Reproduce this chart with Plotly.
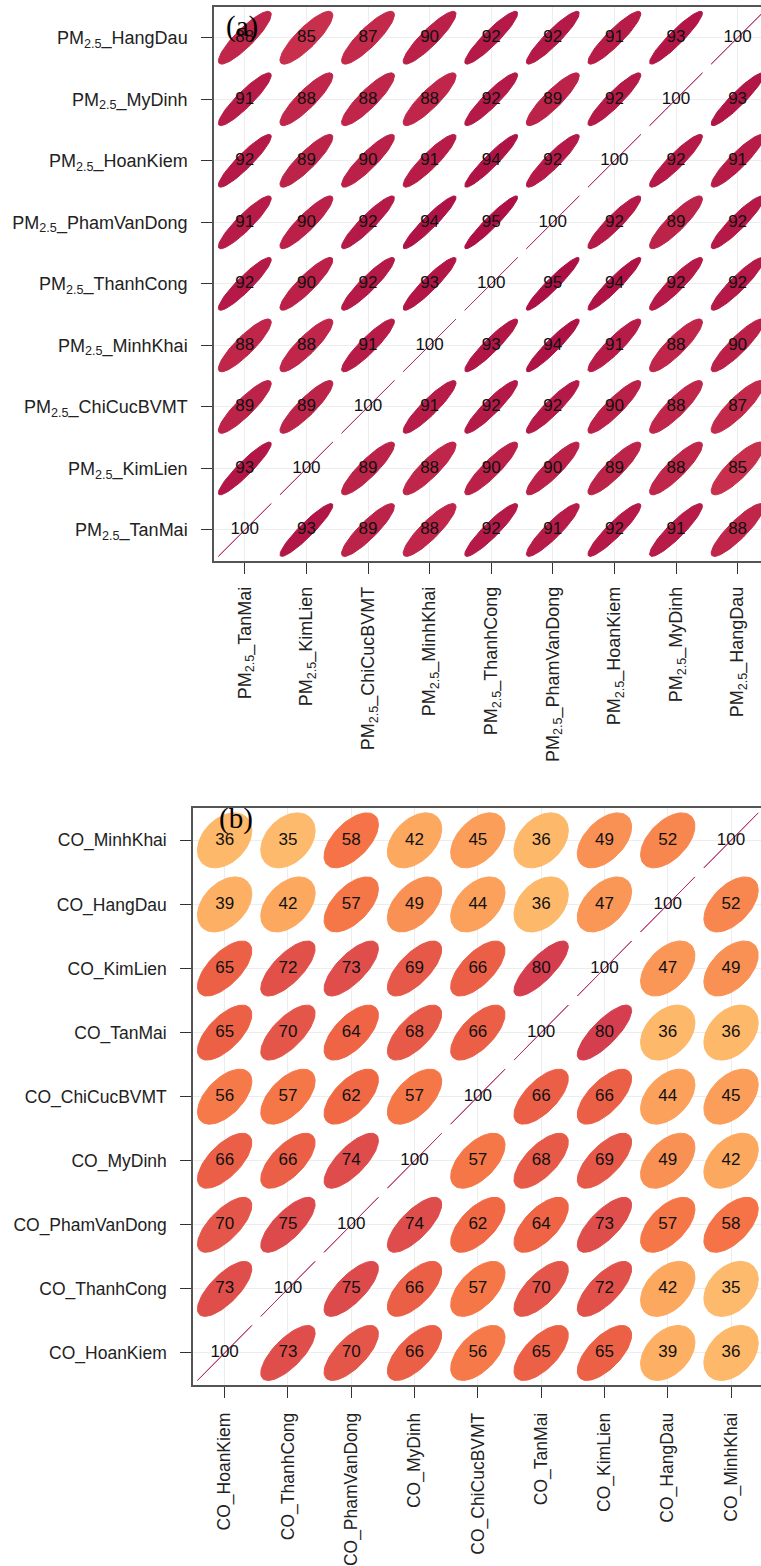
import numpy as np
import plotly.graph_objects as go

W, H = 761, 1566

# ---------------- data ----------------
# Panel (a): PM2.5 stations, order along x (left->right) and y (bottom->top)
pm_stations = ["TanMai", "KimLien", "ChiCucBVMT", "MinhKhai", "ThanhCong",
               "PhamVanDong", "HoanKiem", "MyDinh", "HangDau"]
# rows listed top -> bottom (HangDau ... TanMai), columns left -> right
pm_row_HangDau = [88, 85, 87, 90, 92, 92, 91, 93, 100]
pm_row_MyDinh = [91, 88, 88, 88, 92, 89, 92, 100, 93]
pm_row_HoanKiem = [92, 89, 90, 91, 94, 92, 100, 92, 91]
pm_row_PhamVanDong = [91, 90, 92, 94, 95, 100, 92, 89, 92]
pm_row_ThanhCong = [92, 90, 92, 93, 100, 95, 94, 92, 92]
pm_row_MinhKhai = [88, 88, 91, 100, 93, 94, 91, 88, 90]
pm_row_ChiCucBVMT = [89, 89, 100, 91, 92, 92, 90, 88, 87]
pm_row_KimLien = [93, 100, 89, 88, 90, 90, 89, 88, 85]
pm_row_TanMai = [100, 93, 89, 88, 92, 91, 92, 91, 88]

# Panel (b): CO stations
co_stations = ["HoanKiem", "ThanhCong", "PhamVanDong", "MyDinh", "ChiCucBVMT",
               "TanMai", "KimLien", "HangDau", "MinhKhai"]
co_row_MinhKhai = [36, 35, 58, 42, 45, 36, 49, 52, 100]
co_row_HangDau = [39, 42, 57, 49, 44, 36, 47, 100, 52]
co_row_KimLien = [65, 72, 73, 69, 66, 80, 100, 47, 49]
co_row_TanMai = [65, 70, 64, 68, 66, 100, 80, 36, 36]
co_row_ChiCucBVMT = [56, 57, 62, 57, 100, 66, 66, 44, 45]
co_row_MyDinh = [66, 66, 74, 100, 57, 68, 69, 49, 42]
co_row_PhamVanDong = [70, 75, 100, 74, 62, 64, 73, 57, 58]
co_row_ThanhCong = [73, 100, 75, 66, 57, 70, 72, 42, 35]
co_row_HoanKiem = [100, 73, 70, 66, 56, 65, 65, 39, 36]

pm_rows_top_to_bottom = [pm_row_HangDau, pm_row_MyDinh, pm_row_HoanKiem,
                         pm_row_PhamVanDong, pm_row_ThanhCong, pm_row_MinhKhai,
                         pm_row_ChiCucBVMT, pm_row_KimLien, pm_row_TanMai]
co_rows_top_to_bottom = [co_row_MinhKhai, co_row_HangDau, co_row_KimLien,
                         co_row_TanMai, co_row_ChiCucBVMT, co_row_MyDinh,
                         co_row_PhamVanDong, co_row_ThanhCong, co_row_HoanKiem]

pm_labels = ["PM<sub>2.5</sub>_" + s for s in pm_stations]
co_labels = ["CO_" + s for s in co_stations]

# ---------------- helpers ----------------
spectral_rev = ["#5E4FA2", "#3288BD", "#66C2A5", "#ABDDA4", "#E6F598", "#FFFFBF",
                "#FEE08B", "#FDAE61", "#F46D43", "#D53E4F", "#9E0142"]


def hex2rgb(h):
    h = h.lstrip("#")
    return np.array([int(h[i:i + 2], 16) for i in (0, 2, 4)], dtype=float)


def colour(r):
    pos = (r + 1) / 2 * (len(spectral_rev) - 1)
    i = int(np.floor(pos))
    i = min(i, len(spectral_rev) - 2)
    f = pos - i
    c = hex2rgb(spectral_rev[i]) * (1 - f) + hex2rgb(spectral_rev[i + 1]) * f
    return "rgb(%d,%d,%d)" % tuple(np.round(c).astype(int))


T = np.sqrt(-2 * np.log(1 - 0.9))  # sqrt(qchisq(0.9, 2))
SCALE = 0.2


def ellipse(r, cx, cy, n=80):
    d = np.arccos(np.clip(r, -1, 1))
    a = np.linspace(0, 2 * np.pi, n)
    return cx + T * SCALE * np.cos(a + d / 2), cy + T * SCALE * np.cos(a - d / 2)


fig = go.Figure()


def add_panel(rows_top_to_bottom, xa, ya, fsize):
    n = len(rows_top_to_bottom)
    tx, ty, tt = [], [], []
    for ri, row in enumerate(rows_top_to_bottom):
        yv = n - ri
        for ci, v in enumerate(row):
            xv = ci + 1
            r = v / 100.0
            ex, ey = ellipse(r, xv, yv)
            if v >= 100:
                fig.add_trace(go.Scatter(x=ex, y=ey, mode="lines",
                                         line=dict(color="#B8306E", width=1),
                                         xaxis=xa, yaxis=ya, showlegend=False,
                                         hoverinfo="skip"))
            else:
                c = colour(r)
                fig.add_trace(go.Scatter(x=ex, y=ey, mode="lines", fill="toself",
                                         fillcolor=c, line=dict(color=c, width=1),
                                         xaxis=xa, yaxis=ya, showlegend=False,
                                         hoverinfo="skip"))
            tx.append(xv)
            ty.append(yv)
            tt.append(str(v))
    fig.add_trace(go.Scatter(x=tx, y=ty, text=tt, mode="text",
                             textfont=dict(family="Liberation Sans, Arial", size=fsize,
                                           color="#111111"),
                             xaxis=xa, yaxis=ya, showlegend=False, hoverinfo="skip"))


add_panel(pm_rows_top_to_bottom, "x", "y", 17)
add_panel(co_rows_top_to_bottom, "x2", "y2", 17)


def ax_common(fs):
    return dict(showline=True, linecolor="#555555", linewidth=1.5,
                ticks="outside", ticklen=11, tickwidth=1.3, tickcolor="#333333",
                showgrid=True, gridcolor="#EDEDED", gridwidth=1, zeroline=False,
                tickfont=dict(family="Liberation Sans, Arial", size=fs, color="#222222"),
                tickmode="array", tickvals=list(range(1, 10)), fixedrange=True)


# panel geometry (pixels)
a_left, a_cell_x = 214, 61.6
a_top, a_bot = 7, 564
b_left, b_cell_x = 193, 63.3
b_top, b_bot = 813, 1393

xa = ax_common(18)
xa.update(domain=[a_left / W, 1], range=[0.5, 0.5 + (W - a_left) / a_cell_x],
          ticktext=pm_labels, tickangle=-90, mirror=True, anchor="y",
          ticklabelstandoff=6)
ya = ax_common(18)
ya.update(domain=[1 - a_bot / H, 1 - a_top / H], range=[0.5, 9.5],
          ticktext=pm_labels, anchor="x", ticklabelstandoff=10)
xb = ax_common(17.5)
xb.update(domain=[b_left / W, 1], range=[0.5, 0.5 + (W - b_left) / b_cell_x],
          ticktext=co_labels, tickangle=-90, mirror=True, anchor="y2",
          ticklabelstandoff=8)
yb = ax_common(17.5)
yb.update(domain=[1 - b_bot / H, 1 - b_top / H], range=[0.5, 9.5],
          ticktext=co_labels, anchor="x2", ticklabelstandoff=10)

fig.update_layout(
    width=W, height=H, margin=dict(l=0, r=0, t=0, b=0),
    paper_bgcolor="white", plot_bgcolor="white",
    xaxis=xa, yaxis=ya, xaxis2=xb, yaxis2=yb,
    annotations=[
        dict(text="(a)", x=242 / W, y=1 - 27 / H, xref="paper", yref="paper",
             xanchor="center", yanchor="middle",
             showarrow=False, font=dict(family="Liberation Serif", size=29, color="black")),
        dict(text="(b)", x=236 / W, y=1 - 823 / H, xref="paper", yref="paper",
             xanchor="center", yanchor="middle",
             showarrow=False, font=dict(family="Liberation Serif", size=29, color="black")),
    ],
)

fig.write_html("out.html", config={"displayModeBar": False},
               post_script="document.body.style.margin='0px';")
